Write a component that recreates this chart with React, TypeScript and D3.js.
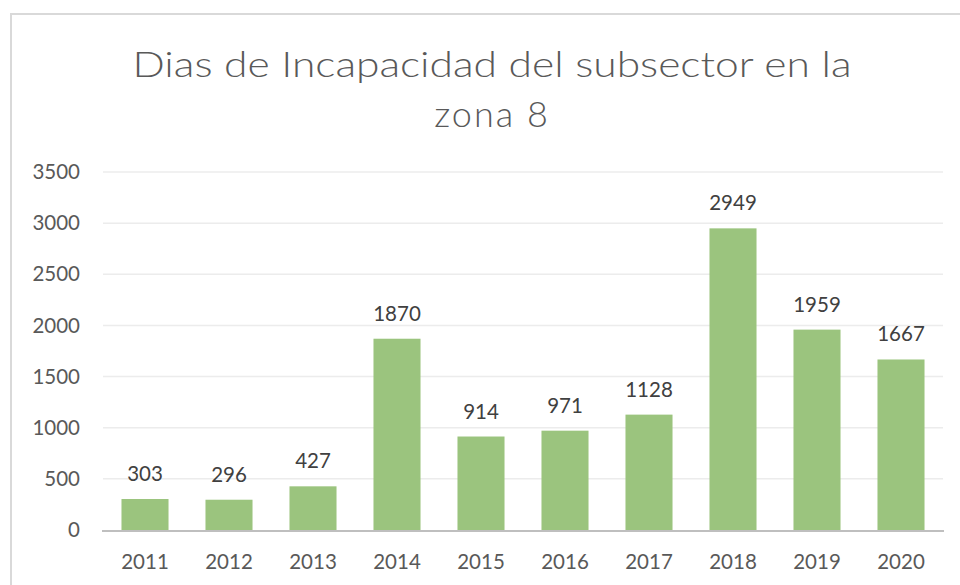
import { useEffect, useRef } from 'react';
import * as d3 from 'd3';

const years = ['2011', '2012', '2013', '2014', '2015', '2016', '2017', '2018', '2019', '2020'];
const dias = [303, 296, 427, 1870, 914, 971, 1128, 2949, 1959, 1667];
const yTicks = [0, 500, 1000, 1500, 2000, 2500, 3000, 3500];
const titleLines = ['Dias de Incapacidad del subsector en la', 'zona 8'];

const W = 960;
const H = 585;
const FONT = 'Lato, "Open Sans", sans-serif';

export default function App() {
  const ref = useRef<SVGSVGElement | null>(null);

  useEffect(() => {
    document.body.style.margin = '0';
    if (!ref.current) return;
    const svg = d3.select(ref.current);
    svg.selectAll('*').remove();

    // chart frame (runs past the right and bottom edges)
    svg.append('rect')
      .attr('x', 11).attr('y', 14)
      .attr('width', 970).attr('height', 600)
      .attr('fill', '#fff')
      .attr('stroke', '#d9d9d9')
      .attr('stroke-width', 2);

    const x = d3.scaleBand()
      .domain(years)
      .range([103, 943])
      .paddingInner(0.44)
      .paddingOuter(0.22);

    const y = d3.scaleLinear()
      .domain([0, 3500])
      .range([530, 172]);

    // gridlines
    svg.append('g')
      .selectAll('line')
      .data(yTicks.filter(t => t > 0))
      .enter()
      .append('line')
      .attr('x1', 103).attr('x2', 943)
      .attr('y1', d => y(d)).attr('y2', d => y(d))
      .attr('stroke', '#ececec')
      .attr('stroke-width', 1.5);

    // y tick labels
    svg.append('g')
      .selectAll('text')
      .data(yTicks)
      .enter()
      .append('text')
      .attr('x', 80)
      .attr('y', d => y(d))
      .attr('dy', '0.35em')
      .attr('text-anchor', 'end')
      .style('font-family', FONT)
      .style('font-size', '20.5px')
      .style('fill', '#595959')
      .text(d => d);

    // bars
    svg.append('g')
      .selectAll('rect')
      .data(dias)
      .enter()
      .append('rect')
      .attr('x', (d, i) => x(years[i]) as number)
      .attr('y', d => y(d))
      .attr('width', x.bandwidth())
      .attr('height', d => y(0) - y(d))
      .attr('fill', '#9bc47e');

    // value labels
    svg.append('g')
      .selectAll('text')
      .data(dias)
      .enter()
      .append('text')
      .attr('x', (d, i) => (x(years[i]) as number) + x.bandwidth() / 2)
      .attr('y', d => y(d) - 18)
      .attr('text-anchor', 'middle')
      .style('font-family', FONT)
      .style('font-size', '20.5px')
      .style('fill', '#404040')
      .text(d => d);

    // x axis line
    svg.append('line')
      .attr('x1', 102).attr('x2', 944)
      .attr('y1', y(0) + 1).attr('y2', y(0) + 1)
      .attr('stroke', '#bfbfbf')
      .attr('stroke-width', 2);

    // x labels
    svg.append('g')
      .selectAll('text')
      .data(years)
      .enter()
      .append('text')
      .attr('x', d => (x(d) as number) + x.bandwidth() / 2)
      .attr('y', 569)
      .attr('text-anchor', 'middle')
      .style('font-family', FONT)
      .style('font-size', '20.5px')
      .style('fill', '#595959')
      .text(d => d);

    // title
    svg.append('text')
      .attr('x', 492).attr('y', 77)
      .attr('text-anchor', 'middle')
      .attr('textLength', 719)
      .attr('lengthAdjust', 'spacingAndGlyphs')
      .style('font-family', FONT)
      .style('font-weight', 300)
      .style('font-size', '36px')
      .style('fill', '#595959')
      .text(titleLines[0]);

    svg.append('text')
      .attr('x', 492).attr('y', 127)
      .attr('text-anchor', 'middle')
      .style('font-family', FONT)
      .style('font-weight', 300)
      .style('font-size', '36px')
      .style('letter-spacing', '2px')
      .style('fill', '#595959')
      .text(titleLines[1]);
  }, []);

  return <svg ref={ref} width={W} height={H} style={{ display: 'block' }} />;
}
